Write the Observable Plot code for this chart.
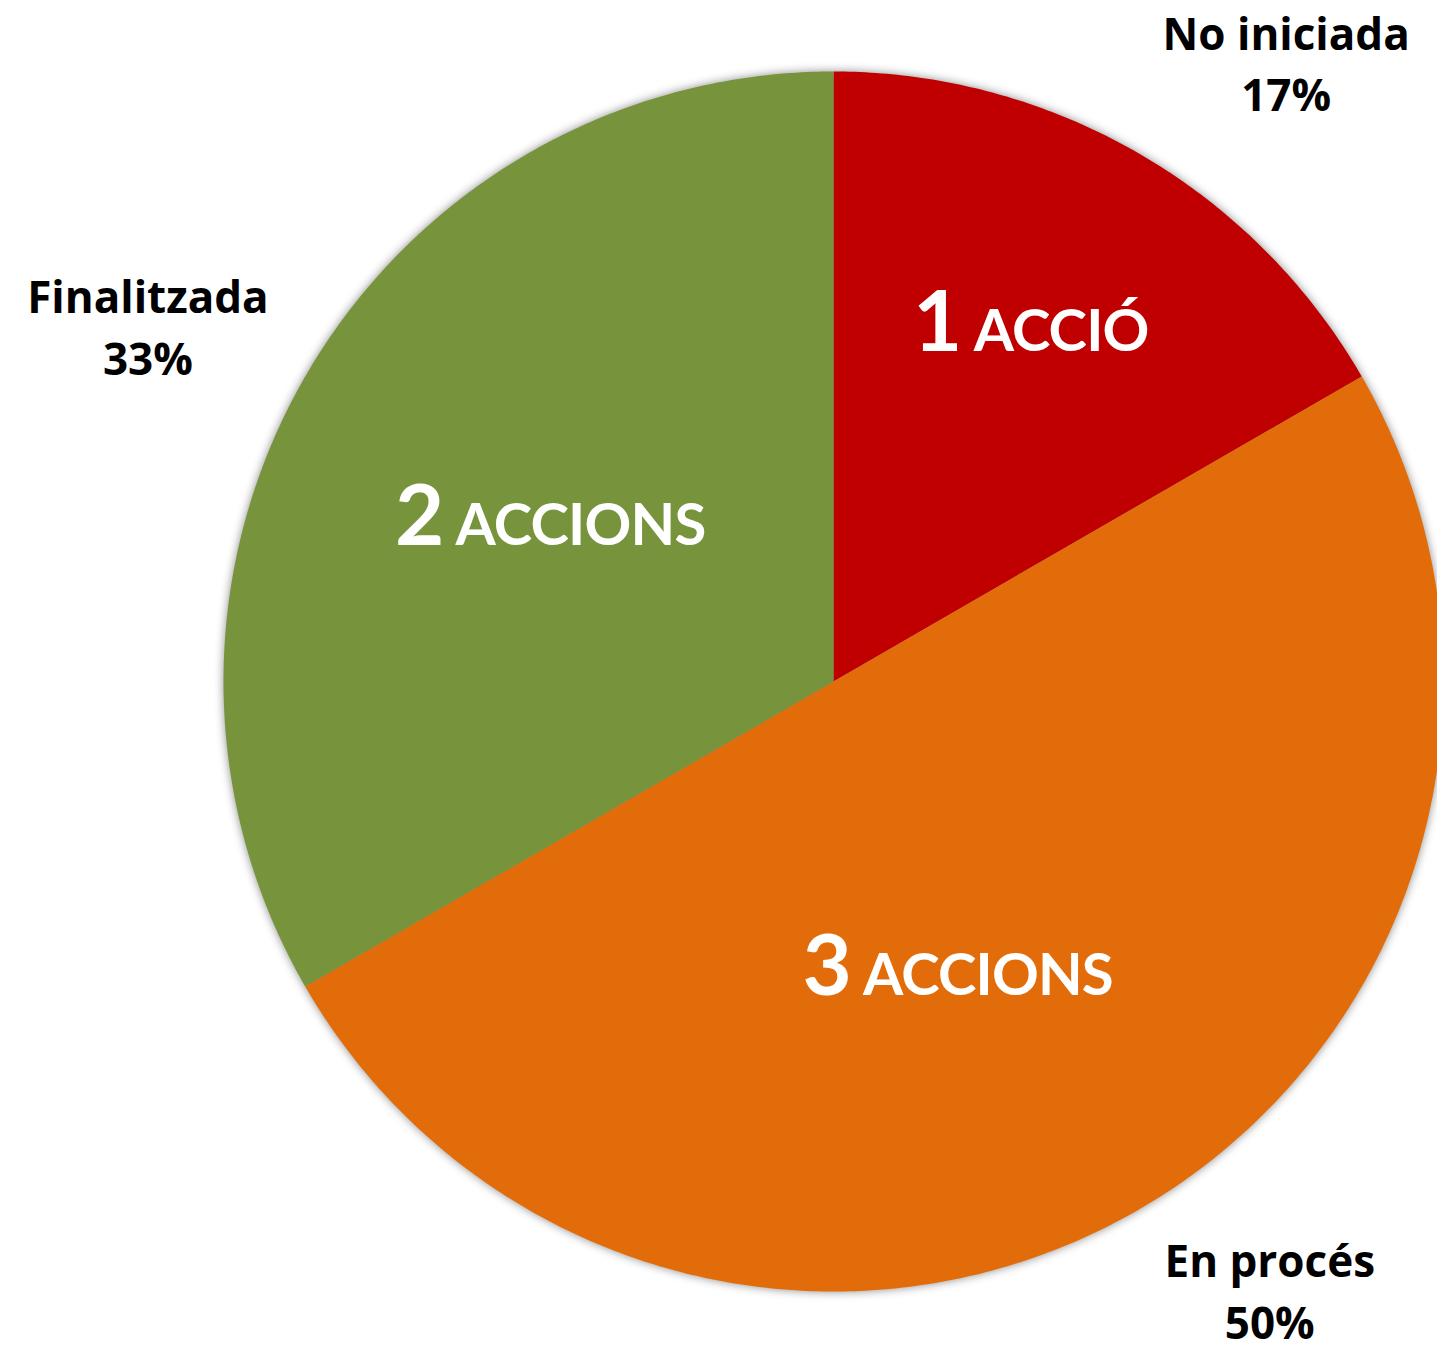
<!DOCTYPE html>
<html>
<head>
<meta charset="utf-8">
<script src="https://cdn.jsdelivr.net/npm/d3@7"></script>
<script src="https://cdn.jsdelivr.net/npm/@observablehq/plot@0.6"></script>
<style>
  html, body { margin: 0; padding: 0; background: #ffffff; overflow: hidden; }
  #chart svg { display: block; overflow: hidden; }
</style>
</head>
<body>
<div id="chart"></div>
<script>
// ---- data ----
const categories = ["No iniciada", "En procés", "Finalitzada"];
const counts = [1, 3, 2];
const countWords = ["ACCIÓ", "ACCIONS", "ACCIONS"];

// ---- styling / layout ----
const colors = ["#C00000", "#E36C0A", "#77933C"];
const W = 1437, H = 1355;
const cx = 833, cy = 681, rPx = 610;
const outerFont = 44, outerLineHeight = 1.4, outerGap = 48, outerBlockH = 100;
const numFont = 85, wordFont = 58;
// pixel nudges for label placement (layout only)
const outerNudge = {"No iniciada": [0, -1], "En procés": [2, -13], "Finalitzada": [5, 22]};
const innerNudge = {"No iniciada": [-4, 0], "En procés": [-36, 18], "Finalitzada": [-6, 5]};

const rows = categories.map((name, i) => ({name, count: counts[i], word: countWords[i]}));
const total = d3.sum(counts);
const arcs = d3.pie().sort(null).value(d => d.count).startAngle(0).endAngle(2 * Math.PI)(rows);

// slice outlines in data space (unit circle, y up)
const slicePts = [];
for (const a of arcs) {
  slicePts.push({name: a.data.name, x: 0, y: 0});
  const n = Math.max(8, Math.ceil((a.endAngle - a.startAngle) / (Math.PI / 360)));
  for (let k = 0; k <= n; k++) {
    const t = a.startAngle + (a.endAngle - a.startAngle) * k / n;
    slicePts.push({name: a.data.name, x: Math.sin(t), y: Math.cos(t)});
  }
}

// text measurement
const ctx = document.createElement("canvas").getContext("2d");
ctx.font = `bold ${outerFont}px "Open Sans"`;
const pct = d3.format(".0%");

const outerLabels = arcs.map(a => {
  const mid = (a.startAngle + a.endAngle) / 2;
  const s = Math.sin(mid), c = Math.cos(mid);
  const lines = [a.data.name, pct(a.data.count / total)];
  const w = d3.max(lines, l => ctx.measureText(l).width);
  const [nx, ny] = outerNudge[a.data.name] || [0, 0];
  const px = cx + (rPx + outerGap) * s + Math.sign(s) * w / 2 + nx;
  const py = cy - (rPx + outerGap) * c - Math.sign(c) * outerBlockH / 2 + ny;
  return {text: lines.join("\n"), x: (px - cx) / rPx, y: (cy - py) / rPx};
});

const innerLabels = arcs.map(a => {
  const mid = (a.startAngle + a.endAngle) / 2;
  const r = (a.endAngle - a.startAngle) < Math.PI / 2 ? 0.66 : 0.525;
  const [nx, ny] = innerNudge[a.data.name] || [0, 0];
  return {num: String(a.data.count), word: a.data.word, text: a.data.count + " " + a.data.word,
          x: r * Math.sin(mid) + nx / rPx, y: r * Math.cos(mid) - ny / rPx};
});

const svg = Plot.plot({
  width: W,
  height: H,
  margin: 0,
  x: {domain: [-1, 1], range: [cx - rPx, cx + rPx], axis: null},
  y: {domain: [-1, 1], range: [cy + rPx, cy - rPx], axis: null},
  color: {domain: categories, range: colors},
  style: {background: "#ffffff"},
  marks: [
    Plot.line(slicePts, {x: "x", y: "y", z: "name", fill: "name", stroke: "none", curve: "linear-closed",
      imageFilter: "drop-shadow(0px 0px 5px rgba(0,0,0,0.45))"}),
    Plot.text(innerLabels, {x: "x", y: "y", text: "text", fill: "white", fontFamily: "Lato",
      fontWeight: "bold", fontSize: wordFont, textAnchor: "middle", lineAnchor: "middle"}),
    Plot.text(outerLabels, {x: "x", y: "y", text: "text", fill: "black", fontFamily: "Open Sans",
      fontWeight: "bold", fontSize: outerFont, lineHeight: outerLineHeight, textAnchor: "middle", lineAnchor: "middle"})
  ]
});

// split inner labels into a larger number and smaller words
const byText = new Map(innerLabels.map(d => [d.text, d]));
svg.querySelectorAll("text").forEach(t => {
  const d = byText.get(t.textContent);
  if (!d) return;
  t.textContent = "";
  const ns = "http://www.w3.org/2000/svg";
  const a = document.createElementNS(ns, "tspan");
  a.setAttribute("font-size", numFont);
  a.textContent = d.num;
  const b = document.createElementNS(ns, "tspan");
  b.setAttribute("font-size", wordFont);
  b.setAttribute("letter-spacing", "-0.8");
  b.textContent = " " + d.word;
  t.appendChild(a);
  t.appendChild(b);
});

document.getElementById("chart").appendChild(svg);
</script>
</body>
</html>
